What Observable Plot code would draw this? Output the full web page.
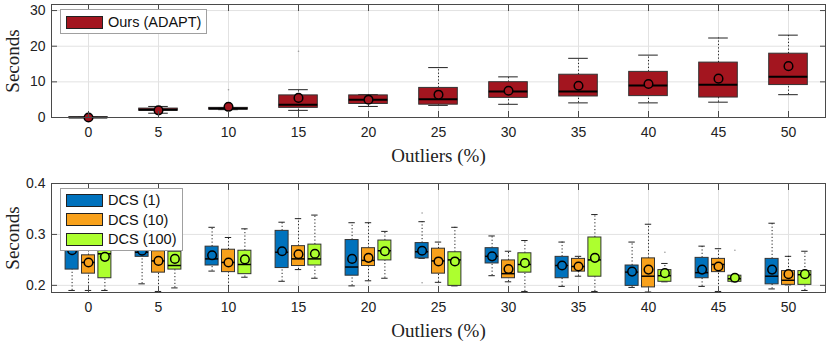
<!DOCTYPE html>
<html>
<head>
<meta charset="utf-8">
<script src="https://cdn.jsdelivr.net/npm/d3@7"></script>
<script src="https://cdn.jsdelivr.net/npm/@observablehq/plot@0.6"></script>
<style>
  html, body { margin: 0; padding: 0; background: white; }
  #wrap { position: relative; width: 830px; height: 345px; overflow: hidden; }
  #top, #bottom { position: absolute; left: 0; }
  #top { top: 0; }
  #bottom { top: 170px; }
  .legend { position: absolute; background: white; border: 1px solid #a0a0a0; box-sizing: border-box;
    font-family: "Liberation Sans", Arial, sans-serif; font-size: 14.5px; color: #111; }
  .row { position: absolute; left: 5px; height: 14px; display: flex; align-items: center; white-space: nowrap; }
  .sw { width: 37px; height: 13px; border: 1px solid #222; box-sizing: border-box; margin-right: 5px; }
</style>
</head>
<body>
<div id="wrap">
  <div id="top"></div>
  <div id="bottom"></div>
  <div class="legend" style="left:60px;top:9px;width:147px;height:25px;">
    <div class="row" style="top:5px;"><div class="sw" style="background:#A3151F"></div><span id="l0"></span></div>
  </div>
  <div class="legend" style="left:60px;top:188px;width:123px;height:63px;">
    <div class="row" style="top:4px;"><div class="sw" style="background:#0072BD"></div><span id="l1"></span></div>
    <div class="row" style="top:23.5px;"><div class="sw" style="background:#F8A11B"></div><span id="l2"></span></div>
    <div class="row" style="top:43px;"><div class="sw" style="background:#ADFF2F"></div><span id="l3"></span></div>
  </div>
</div>
<script>
// ---------- data ----------
const categories = [0, 5, 10, 15, 20, 25, 30, 35, 40, 45, 50];
const xTitle = "Outliers (%)";
const yTitle = "Seconds";
const topTicks = [0, 10, 20, 30];
const bottomTicks = [0.2, 0.3, 0.4];

// Ours (ADAPT)
const adaptName = "Ours (ADAPT)";
const adaptLo   = [0, 1.2, 2.2, 2.0, 3.1, 3.4, 3.7, 4.1, 4.1, 4.3, 6.4];
const adaptQ1   = [0, 1.9, 2.2, 2.7, 3.8, 3.6, 5.5, 5.9, 6.0, 5.6, 9.1];
const adaptMed  = [0, 2.2, 2.5, 3.6, 5.0, 5.1, 7.3, 7.3, 9.0, 9.2, 11.4];
const adaptQ3   = [0.05, 2.5, 2.7, 6.2, 6.2, 8.3, 9.9, 12.0, 12.8, 15.4, 17.9];
const adaptHi   = [0.05, 3.1, 2.7, 7.8, 6.4, 14.0, 11.4, 16.6, 17.5, 22.3, 23.1];
const adaptMean = [0, 2.0, 3.0, 5.5, 5.0, 6.4, 7.5, 8.9, 9.4, 10.9, 14.4];
const adaptOutX = [10, 15];
const adaptOutV = [7.8, 18.6];

// DCS series
const dcsNames = ["DCS (1)", "DCS (10)", "DCS (100)"];
const dcs1Lo   = [0.190, 0.203, 0.228, 0.208, 0.199, 0.253, 0.219, 0.198, 0.196, 0.198, 0.193];
const dcs1Q1   = [0.231, 0.256, 0.239, 0.234, 0.219, 0.253, 0.243, 0.214, 0.199, 0.214, 0.202];
const dcs1Med  = [0.275, 0.265, 0.252, 0.265, 0.236, 0.266, 0.257, 0.239, 0.226, 0.225, 0.218];
const dcs1Q3   = [0.290, 0.280, 0.276, 0.307, 0.289, 0.283, 0.273, 0.256, 0.239, 0.254, 0.252];
const dcs1Hi   = [0.320, 0.300, 0.314, 0.324, 0.323, 0.325, 0.297, 0.285, 0.285, 0.277, 0.322];
const dcs1Mean = [0.269, 0.268, 0.259, 0.267, 0.252, 0.268, 0.257, 0.239, 0.227, 0.231, 0.231];
const dcs1OutX = [25, 25];
const dcs1OutV = [0.342, 0.205];

const dcs10Lo   = [0.190, 0.188, 0.184, 0.231, 0.209, 0.206, 0.207, 0.218, 0.187, 0.188, 0.201];
const dcs10Q1   = [0.223, 0.225, 0.226, 0.238, 0.238, 0.223, 0.214, 0.227, 0.196, 0.226, 0.201];
const dcs10Med  = [0.245, 0.248, 0.245, 0.252, 0.249, 0.248, 0.223, 0.237, 0.218, 0.241, 0.210];
const dcs10Q3   = [0.259, 0.267, 0.270, 0.277, 0.273, 0.272, 0.249, 0.252, 0.253, 0.252, 0.228];
const dcs10Hi   = [0.290, 0.285, 0.294, 0.331, 0.323, 0.285, 0.267, 0.257, 0.320, 0.272, 0.257];
const dcs10Mean = [0.245, 0.248, 0.245, 0.261, 0.254, 0.247, 0.232, 0.237, 0.231, 0.237, 0.222];

const dcs100Lo   = [0.190, 0.195, 0.216, 0.214, 0.214, 0.199, 0.188, 0.188, 0.207, 0.207, 0.190];
const dcs100Q1   = [0.214, 0.231, 0.222, 0.239, 0.249, 0.199, 0.225, 0.217, 0.207, 0.207, 0.201];
const dcs100Med  = [0.262, 0.239, 0.241, 0.252, 0.268, 0.250, 0.241, 0.250, 0.219, 0.213, 0.221];
const dcs100Q3   = [0.285, 0.266, 0.268, 0.280, 0.288, 0.265, 0.263, 0.294, 0.230, 0.219, 0.228];
const dcs100Hi   = [0.310, 0.290, 0.311, 0.338, 0.306, 0.314, 0.288, 0.339, 0.243, 0.219, 0.267];
const dcs100Mean = [0.256, 0.252, 0.251, 0.262, 0.267, 0.247, 0.244, 0.254, 0.224, 0.215, 0.222];
const dcs100OutX = [40, 45];
const dcs100OutV = [0.265, 0.269];

const colRed = "#A3151F", colBlue = "#0072BD", colOrange = "#F8A11B", colGreen = "#ADFF2F";

// ---------- helpers ----------
const sans = "Liberation Sans, Arial, sans-serif";
const serif = "Liberation Serif, Times New Roman, serif";
const W = 830;

function rows(lo, q1, med, q3, hi, mean) {
  return categories.map((c, i) => ({c, lo: lo[i], q1: q1[i], med: med[i], q3: q3[i], hi: hi[i], mean: mean[i]}));
}
function pts(xs, vs) { return xs.map((c, i) => ({c, v: vs[i]})); }

function boxMarks(data, color, o) {
  const {dx = 0, boxInset, capInset, r, medWidth, clip} = o;
  return [
    Plot.ruleX(data, {x: "c", y1: "q3", y2: "hi", dx, stroke: "#222", strokeWidth: 1, strokeDasharray: "1.2,2.2", clip}),
    Plot.ruleX(data, {x: "c", y1: "lo", y2: "q1", dx, stroke: "#222", strokeWidth: 1, strokeDasharray: "1.2,2.2", clip}),
    Plot.tickY(data, {x: "c", y: "hi", dx, insetLeft: capInset, insetRight: capInset, stroke: "#222", strokeWidth: 1, clip}),
    Plot.tickY(data, {x: "c", y: "lo", dx, insetLeft: capInset, insetRight: capInset, stroke: "#222", strokeWidth: 1, clip}),
    Plot.barY(data, {x: "c", y1: "q1", y2: "q3", dx, insetLeft: boxInset, insetRight: boxInset, fill: color, stroke: "#333", strokeWidth: 1, clip}),
    Plot.tickY(data, {x: "c", y: "med", dx, insetLeft: boxInset, insetRight: boxInset, stroke: "#000", strokeWidth: medWidth, clip}),
    Plot.dot(data, {x: "c", y: "mean", dx, r, fill: color, stroke: "#000", strokeWidth: 1.5, clip})
  ];
}

function frameAxes(ticks) {
  return [
    Plot.gridX(categories, {stroke: "#e2e2e2", strokeOpacity: 1}),
    Plot.gridY(ticks, {stroke: "#e2e2e2", strokeOpacity: 1})
  ];
}
function axesOver(ticks, fmt) {
  return [
    Plot.frame({stroke: "#4a4a4a", strokeWidth: 1}),
    Plot.axisX({anchor: "bottom", tickSize: -6, tickFormat: () => "", label: null, stroke: "#4a4a4a"}),
    Plot.axisX({anchor: "top", tickSize: -6, tickFormat: () => "", label: null, stroke: "#4a4a4a"}),
    Plot.axisY(ticks, {anchor: "left", tickSize: -6, tickFormat: () => "", label: null, stroke: "#4a4a4a"}),
    Plot.axisY(ticks, {anchor: "right", tickSize: -6, tickFormat: () => "", label: null, stroke: "#4a4a4a"}),
    Plot.axisX({anchor: "bottom", tickSize: 0, tickPadding: 10, label: null, fontSize: 14, fontFamily: sans, fill: "#222"}),
    Plot.axisY(ticks, {anchor: "left", tickSize: 0, tickPadding: 6, label: null, tickFormat: fmt, fontSize: 14, fontFamily: sans, fill: "#222"}),
    Plot.text([xTitle], {text: d => d, frameAnchor: "bottom", dy: 38, lineAnchor: "middle", fontSize: 19, fontFamily: serif, fill: "#222"}),
    Plot.text([yTitle], {text: d => d, frameAnchor: "left", dx: -39, rotate: -90, textAnchor: "middle", lineAnchor: "middle", fontSize: 19, fontFamily: serif, fill: "#222"})
  ];
}

// ---------- top chart ----------
const adapt = rows(adaptLo, adaptQ1, adaptMed, adaptQ3, adaptHi, adaptMean);
const topPlot = Plot.plot({
  width: W, height: 170,
  marginLeft: 51, marginRight: 5, marginTop: 4, marginBottom: 53,
  x: {type: "band", domain: categories, padding: 0},
  y: {domain: [0, 31.7]},
  style: {background: "white", overflow: "visible"},
  marks: [
    ...frameAxes(topTicks),
    Plot.dot(pts(adaptOutX, adaptOutV), {x: "c", y: "v", r: 0.8, fill: "#999", stroke: null}),
    ...boxMarks(adapt, colRed, {boxInset: 15.7, capInset: 25.2, r: 4.3, medWidth: 2, clip: false}),
    ...axesOver(topTicks, d => d3.format("d")(d))
  ]
});
document.getElementById("top").appendChild(topPlot);

// ---------- bottom chart ----------
const d1 = rows(dcs1Lo, dcs1Q1, dcs1Med, dcs1Q3, dcs1Hi, dcs1Mean);
const d10 = rows(dcs10Lo, dcs10Q1, dcs10Med, dcs10Q3, dcs10Hi, dcs10Mean);
const d100 = rows(dcs100Lo, dcs100Q1, dcs100Med, dcs100Q3, dcs100Hi, dcs100Mean);
const bo = {boxInset: 28.5, capInset: 31.8, r: 4.3, medWidth: 1.5, clip: true};
const bottomPlot = Plot.plot({
  width: W, height: 175,
  marginLeft: 51, marginRight: 5, marginTop: 13, marginBottom: 53,
  x: {type: "band", domain: categories, padding: 0},
  y: {domain: [0.186, 0.4]},
  style: {background: "white", overflow: "visible"},
  marks: [
    ...frameAxes(bottomTicks),
    Plot.dot(pts(dcs1OutX, dcs1OutV), {x: "c", y: "v", dx: -16.4, r: 0.8, fill: "#999", stroke: null}),
    Plot.dot(pts(dcs100OutX, dcs100OutV), {x: "c", y: "v", dx: 16.4, r: 0.8, fill: "#999", stroke: null}),
    ...boxMarks(d1, colBlue, {...bo, dx: -16.4}),
    ...boxMarks(d10, colOrange, {...bo, dx: 0}),
    ...boxMarks(d100, colGreen, {...bo, dx: 16.4}),
    ...axesOver(bottomTicks, d => d3.format(".1f")(d))
  ]
});
document.getElementById("bottom").appendChild(bottomPlot);

document.getElementById("l0").textContent = adaptName;
document.getElementById("l1").textContent = dcsNames[0];
document.getElementById("l2").textContent = dcsNames[1];
document.getElementById("l3").textContent = dcsNames[2];
</script>
</body>
</html>
